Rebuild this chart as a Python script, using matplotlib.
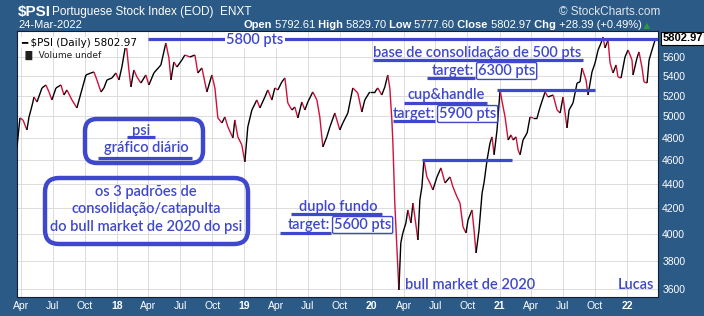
import numpy as np
import matplotlib
matplotlib.use("Agg")
import matplotlib.pyplot as plt
import matplotlib.dates as mdates
from matplotlib.collections import LineCollection
from matplotlib.patches import FancyBboxPatch
from matplotlib.lines import Line2D
from matplotlib.transforms import IdentityTransform
from matplotlib.ticker import NullLocator
from datetime import datetime

# closes, time given as decimal years
years = [2017.216, 2017.239, 2017.263, 2017.294, 2017.310, 2017.325, 2017.341, 2017.349, 2017.373, 2017.412,
         2017.443, 2017.467, 2017.490, 2017.522, 2017.561, 2017.584, 2017.608, 2017.647, 2017.686, 2017.718,
         2017.757, 2017.796, 2017.820, 2017.843, 2017.875, 2017.898, 2017.922, 2017.961, 2017.992, 2018.016,
         2018.039, 2018.071, 2018.078, 2018.094, 2018.110, 2018.133, 2018.157, 2018.188, 2018.227, 2018.251,
         2018.290, 2018.345, 2018.384, 2018.408, 2018.424, 2018.447, 2018.471, 2018.510, 2018.533, 2018.573,
         2018.612, 2018.635, 2018.667, 2018.706, 2018.745, 2018.769, 2018.792, 2018.824, 2018.847, 2018.871,
         2018.910, 2018.925, 2018.949, 2018.980, 2019.004, 2019.027, 2019.059, 2019.098, 2019.122, 2019.161,
         2019.184, 2019.216, 2019.239, 2019.263, 2019.294, 2019.318, 2019.341, 2019.373, 2019.396, 2019.420,
         2019.451, 2019.475, 2019.498, 2019.537, 2019.569, 2019.592, 2019.616, 2019.647, 2019.671, 2019.710,
         2019.749, 2019.773, 2019.812, 2019.851, 2019.890, 2019.922, 2019.945, 2019.984, 2020.024, 2020.047,
         2020.078, 2020.102, 2020.125, 2020.141, 2020.157, 2020.165, 2020.180, 2020.196, 2020.212, 2020.227,
         2020.243, 2020.267, 2020.282, 2020.306, 2020.322, 2020.337, 2020.361, 2020.376, 2020.392, 2020.408,
         2020.431, 2020.455, 2020.478, 2020.510, 2020.541, 2020.573, 2020.612, 2020.635, 2020.667, 2020.690,
         2020.714, 2020.737, 2020.753, 2020.784, 2020.800, 2020.816, 2020.839, 2020.863, 2020.878, 2020.902,
         2020.925, 2020.941, 2020.957, 2020.980, 2021.004, 2021.020, 2021.043, 2021.067, 2021.090, 2021.106,
         2021.129, 2021.145, 2021.161, 2021.184, 2021.216, 2021.239, 2021.263, 2021.294, 2021.318, 2021.357,
         2021.380, 2021.420, 2021.451, 2021.475, 2021.498, 2021.529, 2021.545, 2021.576, 2021.608, 2021.631,
         2021.647, 2021.678, 2021.694, 2021.725, 2021.749, 2021.773, 2021.796, 2021.812, 2021.827, 2021.851,
         2021.867, 2021.890, 2021.914, 2021.929, 2021.953, 2021.984, 2022.008, 2022.039, 2022.047, 2022.078,
         2022.094, 2022.118, 2022.133, 2022.157, 2022.173, 2022.196, 2022.220, 2022.225]
closes = [4718, 4986, 4967, 4873, 4995, 5062, 5140, 5189, 5140, 5279,
          5309, 5239, 5160, 5279, 5309, 5209, 5259, 5160, 5082, 5229,
          5411, 5432, 5442, 5360, 5239, 5279, 5360, 5380, 5432, 5360,
          5494, 5751, 5675, 5463, 5289, 5463, 5391, 5329, 5411, 5309,
          5432, 5515, 5751, 5589, 5360, 5547, 5494, 5568, 5621, 5600,
          5621, 5432, 5484, 5239, 5411, 5279, 4986, 4939, 4995, 4901,
          4800, 4967, 4809, 4736, 4585, 4901, 5062, 5160, 5082, 5189,
          5259, 5160, 5279, 5259, 5340, 5380, 5130, 5062, 5091, 4986,
          5140, 5062, 5140, 5239, 5160, 4995, 4718, 4809, 4901, 5033,
          4873, 4939, 5033, 5279, 5229, 5043, 5160, 5239, 5239, 5279,
          5209, 5289, 5411, 5279, 4967, 4754, 4240, 3900, 3593, 3930,
          4005, 4082, 4184, 4082, 4240, 4129, 3952, 4265, 4372, 4602,
          4456, 4405, 4347, 4456, 4533, 4405, 4456, 4372, 4289, 4240,
          4051, 4005, 4105, 4184, 4028, 3855, 4028, 4322, 4405, 4602,
          4754, 4809, 4648, 4873, 5259, 5140, 4995, 4781, 4827, 4781,
          4809, 4691, 4648, 4781, 4845, 4995, 4986, 4986, 5091, 5239,
          5189, 5209, 5062, 5033, 5189, 4892, 5062, 5130, 5329, 5340,
          5484, 5360, 5209, 5442, 5536, 5675, 5751, 5817, 5697, 5784,
          5536, 5432, 5515, 5391, 5380, 5600, 5675, 5568, 5411, 5589,
          5654, 5484, 5340, 5329, 5568, 5675, 5784, 5802.97]

last_close = 5802.97
quote_fields = [("Open", "5792.61"), ("High", "5829.70"), ("Low", "5777.60"),
                ("Close", "5802.97"), ("Chg", "+28.39 (+0.49%)")]
price_ticks = list(range(3600, 5601, 200))
level_5800 = 5800
level_base = 5260
level_cup = 4600

W, H = 704, 316
BG = "#2b5a86"
BLUE = "#3f48cc"
RED = "#d0103a"
ANN = dict(color=BLUE, family="Lato", fontsize=10.5, fontweight="semibold")
HDR = dict(color="white", fontsize=8, family="Liberation Sans")


def to_date(t):
    y = int(t)
    a, b = datetime(y, 1, 1), datetime(y + 1, 1, 1)
    return a + (b - a) * (t - y)


def ftext(x, y, s, **kw):
    return fig.text(x / W, 1 - y / H, s, **kw)


def fline(x0, x1, y, lw=2.3):
    fig.add_artist(Line2D([x0 / W, x1 / W], [1 - y / H] * 2, color=BLUE, lw=lw,
                          solid_capstyle="butt", transform=fig.transFigure))


def fbox(x0, y0, x1, y1, r, lw=3.2):
    fig.add_artist(FancyBboxPatch((x0, H - y1), x1 - x0, y1 - y0,
                                  boxstyle=f"round,pad=0,rounding_size={r}",
                                  transform=IdentityTransform(), fc="none", ec=BLUE, lw=lw))


fig = plt.figure(figsize=(W / 100, H / 100), dpi=100)
fig.patch.set_facecolor(BG)
ax = fig.add_axes([17 / W, 1 - 297 / H, (658 - 17) / W, (297 - 31) / H])
ax.set_facecolor("white")
ax.set_yscale("log")

x = mdates.date2num([to_date(t) for t in years])
pts = np.column_stack([x, closes])
segs = np.stack([pts[:-1], pts[1:]], axis=1)
cols = ["black" if b >= a else RED for a, b in zip(closes[:-1], closes[1:])]
ax.add_collection(LineCollection(segs, colors=cols, linewidths=1.0, zorder=3))

ax.set_xlim(mdates.date2num(to_date(2017.216)), mdates.date2num(to_date(2022.243)))
ax.set_ylim(3545, 5884)

# quarterly ticks, year ticks bold
qticks = [datetime(y, m, 1) for y in range(2017, 2023) for m in (1, 4, 7, 10)]
qticks = [d for d in qticks if datetime(2017, 3, 20) < d < datetime(2022, 3, 20)]
ax.set_xticks(mdates.date2num(qticks))
ax.set_xticklabels([f"{d.year % 100:02d}" if d.month == 1 else d.strftime("%b") for d in qticks])
for lab, d in zip(ax.get_xticklabels(), qticks):
    lab.set_fontweight("bold" if d.month == 1 else "normal")
ax.yaxis.tick_right()
ax.set_yticks(price_ticks)
ax.set_yticklabels([str(v) for v in price_ticks])
ax.yaxis.set_minor_locator(NullLocator())
ax.tick_params(colors="white", labelsize=7.5, length=0, pad=3)
for lab in ax.get_xticklabels() + ax.get_yticklabels():
    lab.set_family("Liberation Sans")
ax.grid(True, color="#dcdcdc", lw=0.7)
ax.set_axisbelow(True)
for s in ax.spines.values():
    s.set_color("#10203a")
    s.set_linewidth(0.8)

# last close tag on the price axis
ax.annotate(f"{last_close:.2f}", xy=(1.0, last_close), xycoords=("axes fraction", "data"),
            xytext=(3, 0), textcoords="offset points", va="center", ha="left",
            fontsize=8, fontweight="bold", family="Liberation Sans", color="black",
            bbox=dict(boxstyle="square,pad=0.15", fc="white", ec="black", lw=0.8),
            annotation_clip=False)

# legend
ax.text(0.006, 0.975, f"\u2501 $PSI (Daily) {last_close:.2f}", transform=ax.transAxes,
        fontsize=7.5, family="DejaVu Sans", va="top", ha="left", zorder=5,
        bbox=dict(fc="white", ec="none", pad=0.5))
ax.text(0.008, 0.925, "\u2590\u258c Volume undef", transform=ax.transAxes,
        fontsize=6.5, family="DejaVu Sans", va="top", ha="left", zorder=5, color="#202020")

# header
ftext(18, 12, "$PSI", color="white", fontsize=11, fontweight="bold", family="Liberation Sans", va="center")
ftext(52, 12, "Portuguese Stock Index (EOD)  ENXT", color="white", fontsize=8.5,
      family="Liberation Sans", va="center")
ftext(660, 12, "\u00a9 StockCharts.com", color="#dfe6ee", fontsize=8.5, family="Liberation Sans",
      va="center", ha="right")
ftext(18, 25, "24-Mar-2022", va="center", **HDR)
t = ftext(243, 25, quote_fields[0][0], va="center", fontweight="bold", **HDR)
for i, (k, v) in enumerate(quote_fields):
    if i > 0:
        t = ax.annotate(" " + k, xy=(1, 0), xycoords=t, va="bottom", ha="left",
                        fontweight="bold", annotation_clip=False, **HDR)
    t = ax.annotate(" " + v, xy=(1, 0), xycoords=t, va="bottom", ha="left",
                    annotation_clip=False, **HDR)
ax.annotate(" \u25b2", xy=(1, 0), xycoords=t, va="bottom", ha="left", color="#2e9b3e",
            fontsize=6, family="DejaVu Sans", annotation_clip=False)

# price-level lines
ax.hlines(level_5800, mdates.date2num(to_date(2018.243)), mdates.date2num(to_date(2022.243)),
          color=BLUE, lw=2.3, zorder=4)
ax.hlines(level_base, mdates.date2num(to_date(2020.980)), mdates.date2num(to_date(2021.749)),
          color=BLUE, lw=2.3, zorder=4)
ax.hlines(level_cup, mdates.date2num(to_date(2020.392)), mdates.date2num(to_date(2021.098)),
          color=BLUE, lw=2.3, zorder=4)

# annotations
tb = dict(boxstyle="square,pad=0.1", fc="white", ec="none")
rb = dict(boxstyle="round,pad=0.1", fc="white", ec=BLUE, lw=1)
ftext(255, 40, "5800 pts", ha="center", va="center", bbox=tb, **ANN)

ftext(477, 53, "base de consolidação de 500 pts", ha="center", va="center", **ANN)
fline(373, 583, 60)
ftext(474, 71, "target:", ha="right", va="center", **ANN)
ftext(478, 71, "6300 pts", ha="left", va="center", bbox=rb, **ANN)
fline(427, 475, 78)

ftext(446, 95, "cup&handle", ha="center", va="center", **ANN)
fline(404, 487, 103)
ftext(435, 114, "target:", ha="right", va="center", **ANN)
ftext(439, 114, "5900 pts", ha="left", va="center", bbox=rb, **ANN)
fline(393, 435, 121)

ftext(338, 207, "duplo fundo", ha="center", va="center", **ANN)
fline(291, 382, 214)
ftext(330, 225, "target:", ha="right", va="center", **ANN)
ftext(334, 225, "5600 pts", ha="left", va="center", bbox=rb, **ANN)
fline(280, 331, 233)

ftext(470, 285, "bull market de 2020", ha="center", va="center", **ANN)
ftext(636, 285, "Lucas", ha="center", va="center", **ANN)

fbox(85, 119, 203, 163, 12)
ftext(141, 131, "psi", ha="center", va="center", **ANN)
fline(127, 155, 137)
ftext(146, 148, "gráfico diário", ha="center", va="center", **ANN)
fline(98, 192, 158)

fbox(45, 178, 248, 244, 14)
ftext(146, 192, "os 3 padrões de", ha="center", va="center", **ANN)
ftext(146, 209, "consolidação/catapulta", ha="center", va="center", **ANN)
ftext(146, 227, "do bull market de 2020 do psi", ha="center", va="center", **ANN)

fig.savefig("out.png", dpi=100, facecolor=fig.get_facecolor())
